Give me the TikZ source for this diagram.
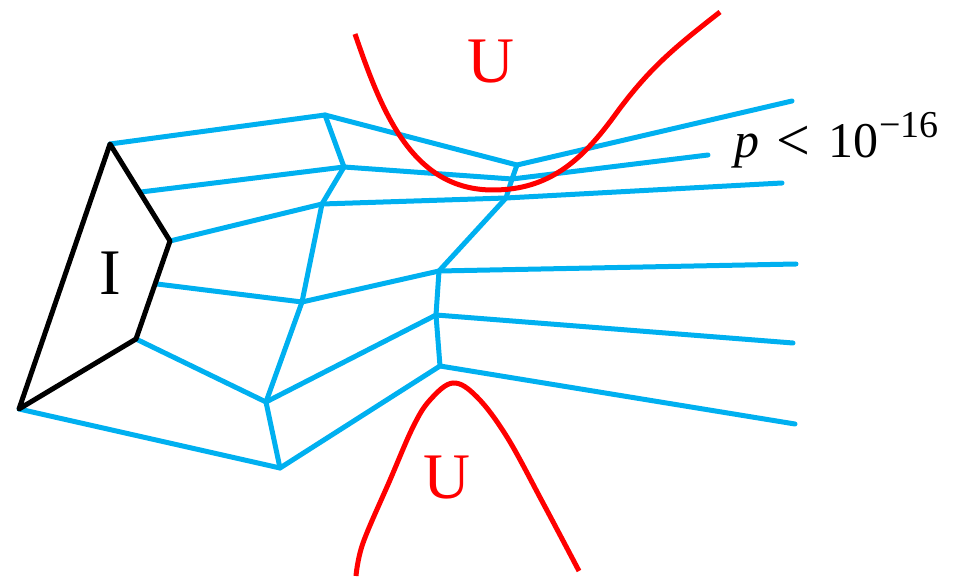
\documentclass[tikz,border=0pt]{standalone}
\usepackage{fontspec}
\setmainfont{Liberation Serif}
\definecolor{netblue}{HTML}{00B0F0}
\definecolor{ured}{HTML}{FF0000}
\begin{document}
\begin{tikzpicture}[x=1pt,y=-1pt,
  net/.style={draw=netblue,line width=5pt,line cap=round,line join=round},
  border/.style={draw=black,line width=5pt,line cap=round,line join=round},
  curve/.style={draw=ured,line width=5pt,line cap=butt},
  lab/.style={inner sep=0pt,font=\fontsize{65}{70}\selectfont}]
\useasboundingbox (0,0) rectangle (959,577);
% black polygon vertices
\coordinate (A) at (110,144);
\coordinate (B) at (170,241);
\coordinate (C) at (136,339);
\coordinate (D) at (19,409);
\coordinate (AB) at (141,192);
\coordinate (BC) at (157,284);
% first blue column
\coordinate (P1) at (325,115);
\coordinate (P2) at (344,167);
\coordinate (P3) at (322,204);
\coordinate (P4) at (302,302);
\coordinate (P5) at (266,402);
\coordinate (P6) at (280,468);
% second blue column
\coordinate (Q1) at (517,165);
\coordinate (Q2) at (512,179);
\coordinate (Q3) at (506,198);
\coordinate (Q4) at (439,271);
\coordinate (Q5) at (436,315);
\coordinate (Q6) at (440,366);
% free ends
\coordinate (E1) at (792,101);
\coordinate (E2) at (708,155);
\coordinate (E3) at (782,183);
\coordinate (E4) at (796,264);
\coordinate (E5) at (793,343);
\coordinate (E6) at (795,424);
% blue network
\path[net] (A) -- (P1) -- (Q1) -- (E1);
\path[net] (AB) -- (P2) -- (Q2) -- (E2);
\path[net] (B) -- (P3) -- (Q3) -- (E3);
\path[net] (BC) -- (P4) -- (Q4) -- (E4);
\path[net] (C) -- (P5) -- (Q5) -- (E5);
\path[net] (D) -- (P6) -- (Q6) -- (E6);
\path[net] (P1) -- (P2) -- (P3) -- (P4) -- (P5) -- (P6);
\path[net] (Q1) -- (Q2) -- (Q3) -- (Q4) -- (Q5) -- (Q6);
% black polygon
\path[border] (A) -- (B) -- (C) -- (D) -- cycle;
% red curves
\coordinate (T0) at (355,34);
\coordinate (T1) at (493,190);
\coordinate (T2) at (615,115);
\coordinate (T3) at (720,12);
\path[curve] (T0) to[out=-71,in=180] (T1) to[out=0,in=234] (T2) to[out=54,in=218] (T3);
\path[curve] plot[smooth,tension=0.6] coordinates {(356,576) (363,543) (390,480) (413,427) (430,400) (453,383) (477,397) (507,437) (543,503) (579,571)};
% labels
\node[lab,text=ured] (Utop) at (491,62) {U};
\node[lab,text=ured] (Ubot) at (447,478) {U};
\node[lab,text=black] (I) at (110,273) {I};
\node[inner sep=0pt,anchor=base west,font=\fontsize{50}{55}\selectfont] (pval) at (734,158) {\makebox[42pt][l]{\textit{p}}\makebox[52pt][l]{\raisebox{-3pt}{\scalebox{1.2}{<}}}10\hspace{1pt}\raisebox{20pt}{\fontsize{38}{42}\selectfont −16}};
\end{tikzpicture}
\end{document}
